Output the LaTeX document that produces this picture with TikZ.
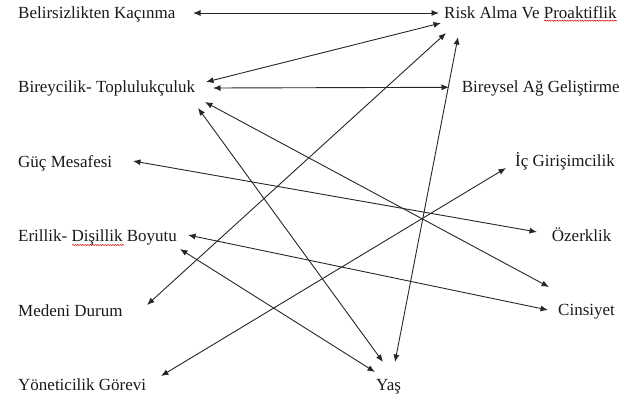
\documentclass[tikz,border=0pt]{standalone}
\usepackage{fontspec}
\setmainfont{Liberation Serif}
\usetikzlibrary{arrows.meta,decorations.pathmorphing}
\begin{document}
\begin{tikzpicture}[x=1pt,y=-1pt,
  lbl/.style={anchor=base west,inner sep=0pt,text=black!90,font=\fontsize{17}{20}\selectfont},
  link/.style={{Latex[length=7.5pt,width=6pt]}-{Latex[length=7.5pt,width=6pt]},line width=0.9pt,draw=black!85},
  squig/.style={draw=red!80!black,line width=0.5pt,decorate,decoration={snake,amplitude=0.6pt,segment length=2.5pt}}]
\useasboundingbox (0,0) rectangle (629,400);
% left column
\node[lbl] (bel)  at (18,18)    {Belirsizlikten Kaçınma};
\node[lbl] (bir)  at (18,92.5)  {Bireycilik- Toplulukçuluk};
\node[lbl] (guc)  at (18,167)   {Güç Mesafesi};
\node[lbl] (eril) at (18,241.5) {Erillik- Dişillik Boyutu};
\node[lbl] (med)  at (18,316)   {Medeni Durum};
\node[lbl] (yon)  at (18,390.5) {Yöneticilik Görevi};
% right column
\node[lbl] (risk) at (444,18)   {Risk Alma Ve Proaktiflik};
\node[lbl] (ag)   at (461.7,92.7) {Bireysel Ağ Geliştirme};
\node[lbl] (ic)   at (515,166)  {İç Girişimcilik};
\node[lbl] (oz)   at (551.7,241) {Özerklik};
\node[lbl] (cins) at (558,315)  {Cinsiyet};
\node[lbl] (yas)  at (376,390)  {Yaş};
% spelling squiggles
\draw[squig] ([shift={(100,2.7)}]risk.base west) -- ([shift={(0,2.7)}]risk.base east);
\draw[squig] ([shift={(54,3.5)}]eril.base west) -- ([shift={(106,3.5)}]eril.base west);
% connectors
\draw[link] ([shift={(175,-5)}]bel.base west) -- ([shift={(-5,-5)}]risk.base west);
\draw[link] ([shift={(188,-10.5)}]bir.base west) -- ([shift={(-3,5)}]risk.base west);
\draw[link] ([shift={(195,-4.5)}]bir.base west) -- ([shift={(-12.7,-5.4)}]ag.base west);
\draw[link] ([shift={(129,-11)}]med.base west) -- ([shift={(2,15)}]risk.base west);
\draw[link] ([shift={(19,-28)}]yas.base west) -- ([shift={(14,19)}]risk.base west);
\draw[link] ([shift={(115,-6)}]guc.base west) -- ([shift={(-14.7,-9)}]oz.base west);
\draw[link] ([shift={(170,-6.5)}]eril.base west) -- ([shift={(-10,-5)}]cins.base west);
\draw[link] ([shift={(143,-14.5)}]yon.base west) -- ([shift={(-9,2)}]ic.base west);
\draw[link] ([shift={(162,7.5)}]eril.base west) -- ([shift={(-1,-18)}]yas.base west);
\draw[link] ([shift={(180,15.5)}]bir.base west) -- ([shift={(7,-28)}]yas.base west);
\draw[link] ([shift={(187,9.5)}]bir.base west) -- ([shift={(-9,-28)}]cins.base west);
\end{tikzpicture}
\end{document}
